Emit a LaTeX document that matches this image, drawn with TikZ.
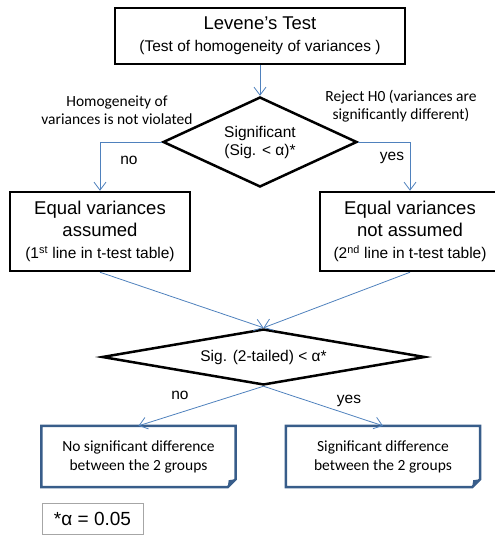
\documentclass[tikz,border=0pt]{standalone}
\usepackage{fontspec}
\setmainfont{Liberation Sans}
\newfontfamily\calibri{Carlito}
\usetikzlibrary{shapes.geometric,arrows.meta}
\definecolor{linkblue}{RGB}{79,129,189}
\definecolor{noteblue}{RGB}{56,93,138}
\begin{document}
\begin{tikzpicture}[x=1pt,y=-1pt,
  font=\fontsize{15.5}{18}\selectfont,
  box/.style={draw,line width=2.5pt,minimum width=180pt,minimum height=79pt,
    align=center,inner sep=0pt,font=\fontsize{18.5}{22}\selectfont},
  small/.style={font=\fontsize{15.5}{20}\selectfont},
  decision/.style={draw,diamond,line width=2.5pt,inner sep=0pt,align=center},
  note/.style={minimum width=194pt,minimum height=61pt,align=center,
    inner sep=0pt,font=\calibri\fontsize{15.5}{19}\selectfont},
  lbl/.style={align=center,font=\calibri\fontsize{15.5}{18}\selectfont},
  link/.style={draw=linkblue,line width=0.8pt,
    -{Straight Barb[length=8pt,width=12pt]}}]
\useasboundingbox (0,0) rectangle (495,536);
% boxes and decisions
\node[box,minimum width=290pt,minimum height=56pt] (levene) at (260,36)
  {Levene’s Test\\{\fontsize{15.5}{21}\selectfont(Test of homogeneity of variances )}};
\node[decision,minimum width=194pt,minimum height=90pt,aspect=2.15] (sig) at (260,142)
  {Significant\\(Sig. < α)*};
\node[box] (equal) at (100,231.5)
  {Equal variances\\assumed\\{\fontsize{15.5}{20}\selectfont(1\textsuperscript{st} line in t-test table)}};
\node[box] (unequal) at (410,231.5)
  {Equal variances\\not assumed\\{\fontsize{15.5}{20}\selectfont(2\textsuperscript{nd} line in t-test table)}};
\node[decision,minimum width=323pt,minimum height=56pt,aspect=5.8] (tailed) at (263.5,357)
  {Sig. (2-tailed) < α*};
\node[note] (same) at (138.5,456.5) {No significant difference\\between the 2 groups};
\node[note] (diff) at (383,456.5) {Significant difference\\between the 2 groups};
\node[draw=gray!70,line width=0.8pt,minimum width=101pt,minimum height=31pt,
  font=\fontsize{19}{22}\selectfont] (alpha) at (92.5,518.5) {*α = 0.05};
% note outlines with folded corner
\foreach \n in {same,diff} {
  \draw[noteblue,line width=2.5pt] (\n.south west) -- (\n.north west) -- (\n.north east)
    -- ([yshift=8pt]\n.south east) -- ([xshift=-8pt]\n.south east) -- cycle;
  \fill[noteblue] ([yshift=8pt]\n.south east) -- ([xshift=-8pt]\n.south east)
    -- ([shift={(-7pt,7pt)}]\n.south east) -- cycle;
}
% labels
\node[lbl] (homog) at (117,110) {Homogeneity of\\variances is not violated};
\node[lbl] (reject) at (401,106) {Reject H0 (variances are\\significantly different)};
\node (no1) at (129,160) {no};
\node (yes1) at (392,158) {yes};
\node (no2) at (180,395) {no};
\node (yes2) at (349,401) {yes};
% connectors
\draw[link] (levene) -- (sig);
\draw[link] (sig.west) -| (equal.north);
\draw[link] (sig.east) -| (unequal.north);
\draw[link] (equal.south) -- (tailed.north);
\draw[link] (unequal.south) -- (tailed.north);
\draw[link] (tailed.south) -- (same.north);
\draw[link] (tailed.south) -- (diff.north);
\end{tikzpicture}
\end{document}
